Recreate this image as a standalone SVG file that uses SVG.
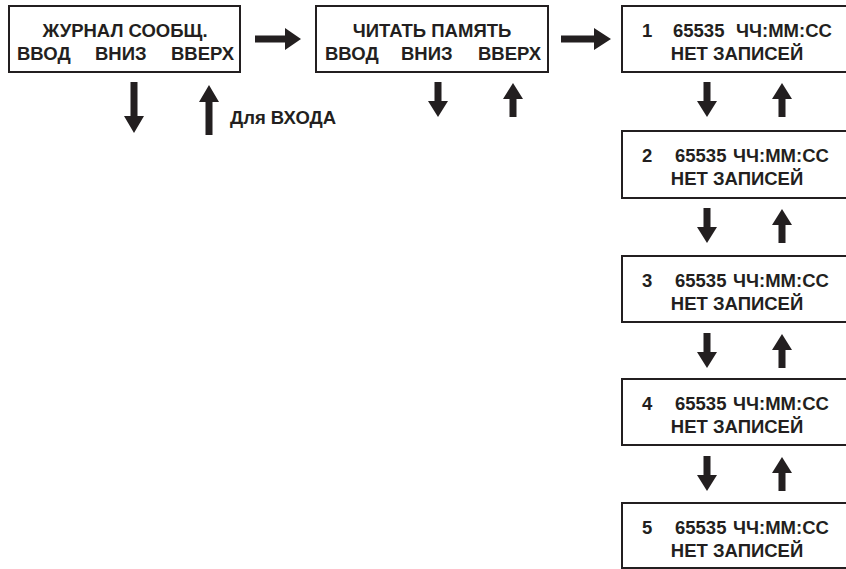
<svg xmlns="http://www.w3.org/2000/svg" width="846" height="569" viewBox="0 0 846 569">
<style>
.box{fill:#fff;stroke:#231f20;stroke-width:2}
.t{font-family:"Liberation Sans",Arial,sans-serif;font-weight:bold;font-size:18.5px;fill:#231f20}
.c{text-anchor:middle}
.ar{fill:#231f20}
</style>
<rect width="846" height="569" fill="#fff"/>
<g id="n-journal">
<rect class="box" x="9" y="6" width="231" height="66"/>
<text class="t c" x="125" y="37">ЖУРНАЛ СООБЩ.</text>
<text class="t" y="60"><tspan x="17">ВВОД</tspan><tspan x="95">ВНИЗ</tspan><tspan x="171">ВВЕРХ</tspan></text>
</g>
<g id="n-read">
<rect class="box" x="316" y="6" width="232" height="66"/>
<text class="t c" x="432" y="37">ЧИТАТЬ ПАМЯТЬ</text>
<text class="t" y="60"><tspan x="325">ВВОД</tspan><tspan x="401">ВНИЗ</tspan><tspan x="478">ВВЕРХ</tspan></text>
</g>
<g id="n-rec1">
<rect class="box" x="622" y="6" width="230" height="66"/>
<text class="t" y="37"><tspan x="642">1</tspan><tspan x="673">65535</tspan><tspan x="736">ЧЧ:ММ:СС</tspan></text>
<text class="t c" x="737" y="60">НЕТ ЗАПИСЕЙ</text>
</g>
<g id="n-rec2">
<rect class="box" x="622" y="131" width="230" height="67"/>
<text class="t" y="162"><tspan x="642">2</tspan><tspan x="675">65535</tspan><tspan x="733">ЧЧ:ММ:СС</tspan></text>
<text class="t c" x="737" y="185">НЕТ ЗАПИСЕЙ</text>
</g>
<g id="n-rec3">
<rect class="box" x="622" y="256" width="230" height="66"/>
<text class="t" y="287"><tspan x="642">3</tspan><tspan x="675">65535</tspan><tspan x="733">ЧЧ:ММ:СС</tspan></text>
<text class="t c" x="737" y="310">НЕТ ЗАПИСЕЙ</text>
</g>
<g id="n-rec4">
<rect class="box" x="622" y="379" width="230" height="66"/>
<text class="t" y="410"><tspan x="642">4</tspan><tspan x="675">65535</tspan><tspan x="733">ЧЧ:ММ:СС</tspan></text>
<text class="t c" x="737" y="433">НЕТ ЗАПИСЕЙ</text>
</g>
<g id="n-rec5">
<rect class="box" x="622" y="503" width="230" height="65"/>
<text class="t" y="534"><tspan x="642">5</tspan><tspan x="675">65535</tspan><tspan x="733">ЧЧ:ММ:СС</tspan></text>
<text class="t c" x="737" y="557">НЕТ ЗАПИСЕЙ</text>
</g>
<g id="connectors">
<path class="ar" d="M255,35.5 H285 V28 L301,39 L285,50 V42.5 H255 Z"/>
<path class="ar" d="M561,35.5 H594 V28 L611,39 L594,50 V42.5 H561 Z"/>
<path class="ar" d="M130.5,82 H137.5 V116 H144 L134,133 L124,116 H130.5 Z"/>
<path class="ar" d="M205.5,135 H212.5 V102 H219 L209,85 L199,102 H205.5 Z"/>
<path class="ar" d="M434.5,82 H441.5 V101 H448 L438,117 L428,101 H434.5 Z"/>
<path class="ar" d="M509.5,117 H516.5 V99 H523 L513,83 L503,99 H509.5 Z"/>
<path class="ar" d="M703.5,82 H710.5 V101 H717 L707,117 L697,101 H703.5 Z"/>
<path class="ar" d="M778.5,117 H785.5 V99 H792 L782,83 L772,99 H778.5 Z"/>
<path class="ar" d="M703.5,208 H710.5 V227 H717 L707,243 L697,227 H703.5 Z"/>
<path class="ar" d="M778.5,243 H785.5 V225 H792 L782,209 L772,225 H778.5 Z"/>
<path class="ar" d="M703.5,333 H710.5 V352 H717 L707,368 L697,352 H703.5 Z"/>
<path class="ar" d="M778.5,368 H785.5 V350 H792 L782,334 L772,350 H778.5 Z"/>
<path class="ar" d="M703.5,456 H710.5 V475 H717 L707,491 L697,475 H703.5 Z"/>
<path class="ar" d="M778.5,491 H785.5 V473 H792 L782,457 L772,473 H778.5 Z"/>
</g>
<text class="t" x="230" y="124">Для ВХОДА</text>
</svg>
